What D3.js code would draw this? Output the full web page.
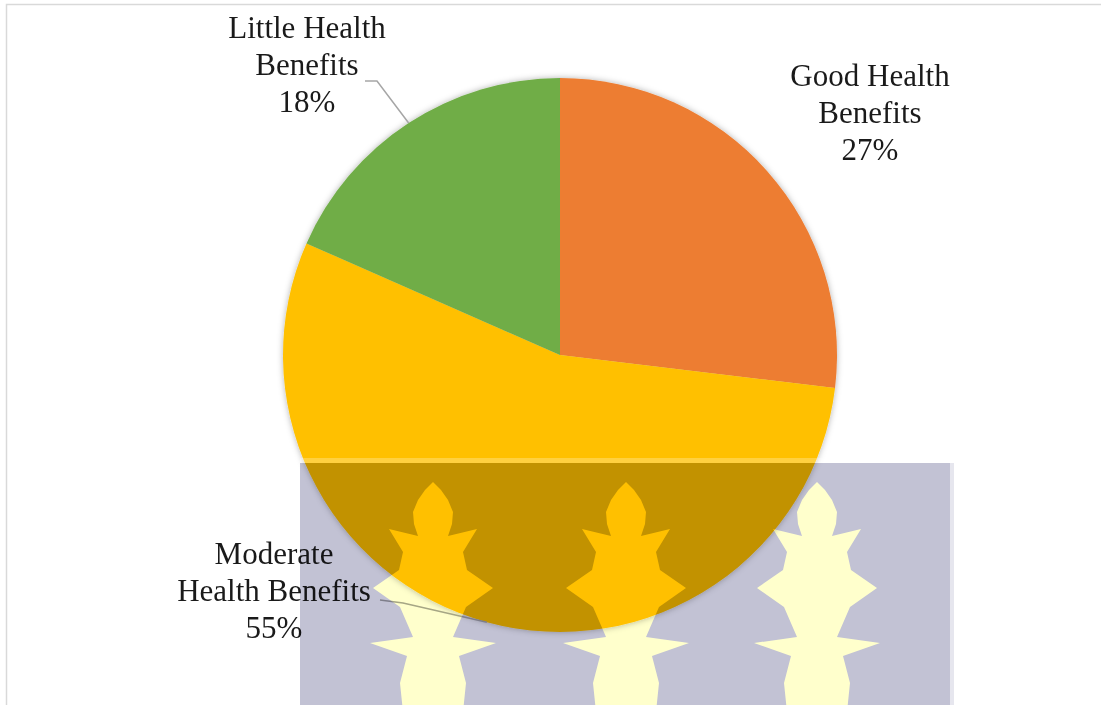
<!DOCTYPE html>
<html>
<head>
<meta charset="utf-8">
<script src="https://cdn.jsdelivr.net/npm/d3@7"></script>
<style>
  html, body { margin: 0; padding: 0; background: #fff; }
  svg { display: block; }
</style>
</head>
<body>
<svg id="chart" width="1101" height="705"></svg>
<script>
// ---- data ----
const categories = ["Good Health Benefits", "Moderate Health Benefits", "Little Health Benefits"];
const labelLines = [["Good Health", "Benefits"], ["Moderate", "Health Benefits"], ["Little Health", "Benefits"]];
const values = [26.9, 54.7, 18.4];
const colors = ["#ED7D31", "#FFC000", "#70AD47"];

// ---- layout ----
const W = 1101, H = 705;
const cx = 560, cy = 355, R = 277;
const fontSize = 31, lineH = 37;
// label anchor (center x, first baseline y) and leader start
const labelLayout = [
  { x: 870, y: 86, leader: null },
  { x: 274, y: 564, leader: [[380, 600], [403, 603]] },
  { x: 307, y: 38, leader: [[365, 81], [377, 81]] }
];

const svg = d3.select("#chart");

const defs = svg.append("defs");
const f = defs.append("filter").attr("id", "shadow").attr("x", "-10%").attr("y", "-10%").attr("width", "120%").attr("height", "120%");
f.append("feDropShadow").attr("dx", 0).attr("dy", 0).attr("stdDeviation", 3)
  .attr("flood-color", "#000").attr("flood-opacity", 0.3);

// chart border (only top and left edges are visible in the frame)
svg.append("rect").attr("x", 6.5).attr("y", 4.5).attr("width", 1120).attr("height", 720)
  .attr("fill", "none").attr("stroke", "#D9D9D9").attr("stroke-width", 1.5);

const pie = d3.pie().value(d => d).sort(null);
const arcs = pie(values);
const arc = d3.arc().innerRadius(0).outerRadius(R);
const edgeArc = d3.arc().innerRadius(R).outerRadius(R);

const g = svg.append("g").attr("transform", `translate(${cx},${cy})`);
g.append("g").attr("filter", "url(#shadow)")
  .selectAll("path").data(arcs).join("path")
  .attr("d", arc).attr("fill", (d, i) => colors[i]);

// leader lines
arcs.forEach((a, i) => {
  const L = labelLayout[i];
  if (!L.leader) return;
  const e = edgeArc.centroid(a);
  const pts = L.leader.concat([[cx + e[0], cy + e[1]]]);
  svg.append("polyline")
    .attr("points", pts.map(p => p.join(",")).join(" "))
    .attr("fill", "none").attr("stroke", "#A6A6A6").attr("stroke-width", 1.5);
});

// labels
const total = d3.sum(values);
arcs.forEach((a, i) => {
  const L = labelLayout[i];
  const lines = labelLines[i].concat([Math.round(values[i] / total * 100) + "%"]);
  const t = svg.append("text")
    .attr("text-anchor", "middle")
    .attr("font-family", "'Liberation Serif', 'Times New Roman', serif")
    .attr("font-size", fontSize)
    .attr("fill", "#1A1A1A");
  lines.forEach((s, k) => {
    t.append("tspan").attr("x", L.x).attr("y", L.y + k * lineH).text(s);
  });
});

// ---- watermark overlay (scanned-document stamp) ----
const wm = svg.append("g").style("mix-blend-mode", "multiply");
wm.append("rect").attr("x", 300).attr("y", 463).attr("width", 650).attr("height", 250).attr("fill", "#C2C2D4");
wm.append("rect").attr("x", 950).attr("y", 463).attr("width", 4).attr("height", 250).attr("fill", "#E6E6EE");
const flameHalf = [[0,482],[8,490],[15,500],[20,512],[19,524],[15,536],[44,529],[30,552],[34,570],[60,588],[33,607],[20,637],[63,643],[26,656],[33,683],[30,712]];
const flamePts = flameHalf.concat(flameHalf.slice().reverse().map(p => [-p[0], p[1]]));
const flameShape = d3.line().curve(d3.curveLinearClosed);
[433, 626, 817].forEach(fx => {
  wm.append("path")
    .attr("d", flameShape(flamePts.map(p => [fx + p[0], p[1]])))
    .attr("fill", "#FFFFCC");
});
svg.append("rect").attr("x", 300).attr("y", 458).attr("width", 650).attr("height", 5)
  .attr("fill", "#fff").attr("opacity", 0.25);
</script>
</body>
</html>
